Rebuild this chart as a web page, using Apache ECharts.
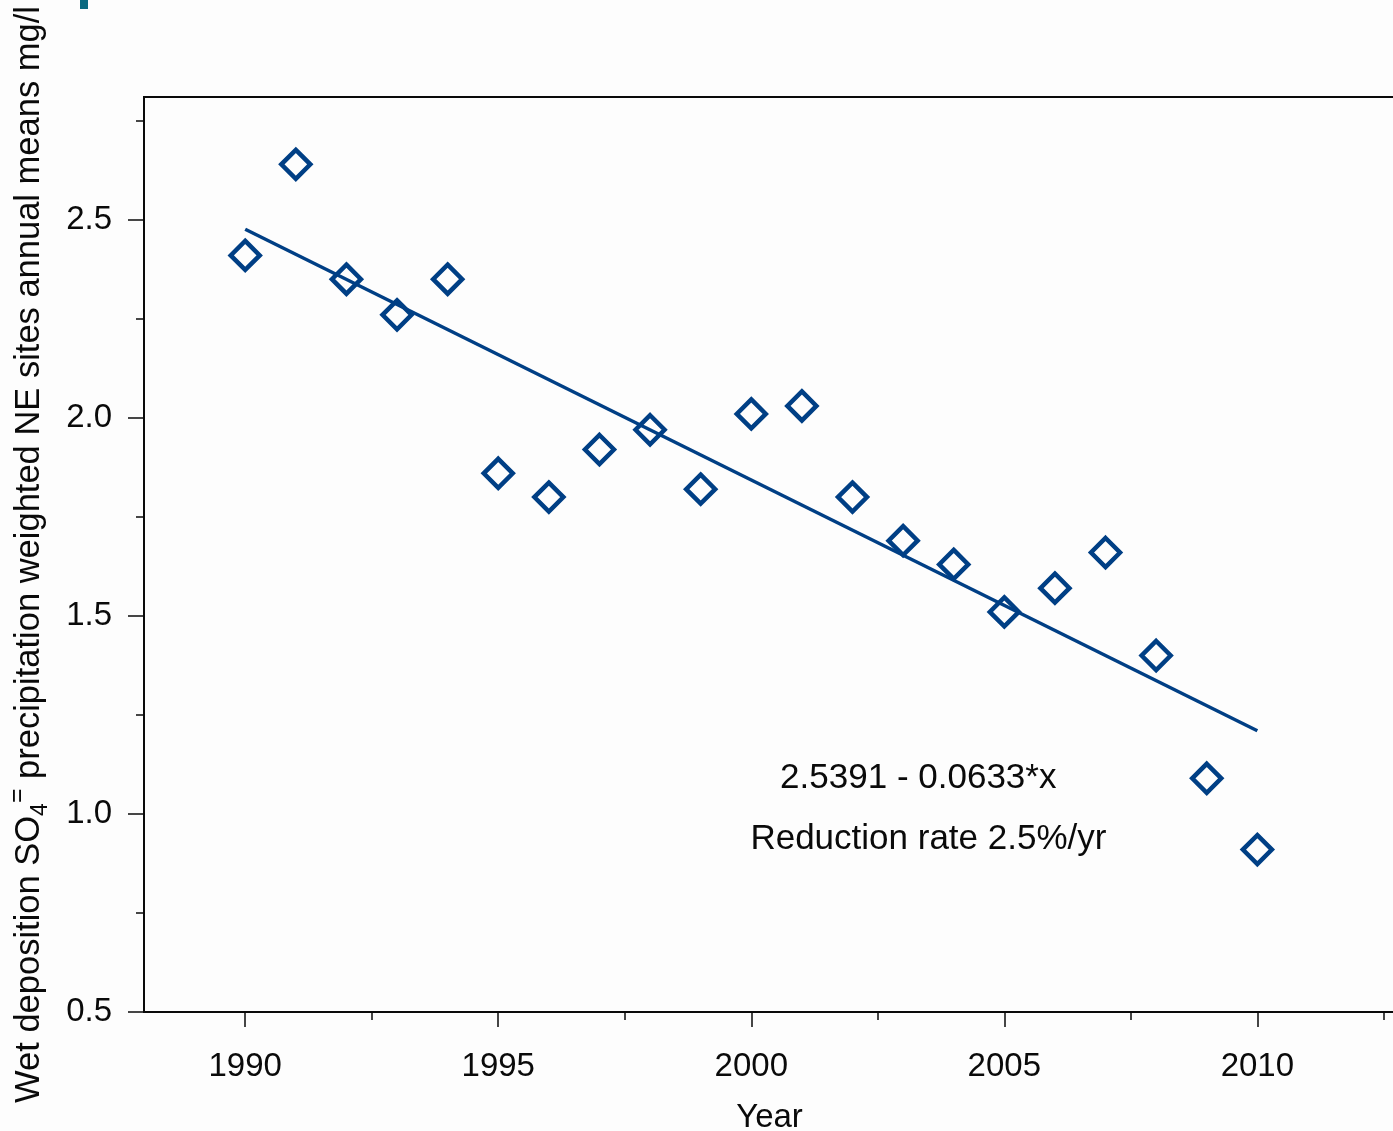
<!DOCTYPE html>
<html><head><meta charset="utf-8">
<script src="https://cdn.jsdelivr.net/npm/echarts@6/dist/echarts.min.js"></script>
<style>html,body{margin:0;padding:0;background:#fdfdfd}#c{width:1393px;height:1131px}</style>
</head><body><div id="c"></div>
<script>
const years = [1990,1991,1992,1993,1994,1995,1996,1997,1998,1999,2000,2001,2002,2003,2004,2005,2006,2007,2008,2009,2010];
const so4 = [2.41,2.64,2.35,2.26,2.35,1.86,1.80,1.92,1.97,1.82,2.01,2.03,1.80,1.69,1.63,1.51,1.57,1.66,1.40,1.09,0.91];
const trendYears = [1990, 2010];
const trendValues = [2.476, 1.210];
const xMajorTicks = [1990,1995,2000,2005,2010];
const xMinorTicks = [1992.5,1997.5,2002.5,2007.5,2012.5];
const yMajorTicks = [0.5,1.0,1.5,2.0,2.5];
const yMinorTicks = [0.75,1.25,1.75,2.25,2.75];
const annotationLines = ['2.5391 - 0.0633*x','Reduction rate 2.5%/yr'];

const blue = '#003f85';
const ink = '#0a0a0a';
const font = 'Liberation Sans, Arial, sans-serif';

const chart = echarts.init(document.getElementById('c'), null, {renderer:'canvas'});
const xBase = {type:'value', min:1988, max:2012.72, gridIndex:0, position:'bottom', splitLine:{show:false}};
const yBase = {type:'value', min:0.5, max:2.81, gridIndex:0, position:'left', splitLine:{show:false}};
chart.setOption({
  backgroundColor:'#fdfdfd',
  animation:false,
  grid:{left:144, top:97, right:-2, bottom:119, show:true, borderColor:ink, borderWidth:2, backgroundColor:'transparent', containLabel:false, outerBoundsMode:'none'},
  xAxis:[
    Object.assign({}, xBase, {
      name:'Year', nameLocation:'middle', nameGap:89,
      nameTextStyle:{fontSize:33, color:ink, fontFamily:font},
      axisLine:{show:true, lineStyle:{color:ink, width:2}},
      axisTick:{show:true, inside:false, length:15, customValues:xMajorTicks, lineStyle:{color:ink, width:1.5}},
      axisLabel:{show:true, margin:38, fontSize:33, color:ink, fontFamily:font, customValues:xMajorTicks, formatter:v=>String(v)}
    }),
    Object.assign({}, xBase, {
      axisLine:{show:false},
      axisTick:{show:true, inside:false, length:8, customValues:xMinorTicks, lineStyle:{color:ink, width:1.5}},
      axisLabel:{show:false}
    })
  ],
  yAxis:[
    Object.assign({}, yBase, {
      name:'{b|Wet deposition SO}{sub|4}{sup|=}{b| precipitation weighted NE sites annual means mg/l}',
      nameLocation:'middle', nameGap:92, nameRotate:90,
      nameTextStyle:{fontSize:34.5, color:ink, fontFamily:font,
        rich:{
          b:{fontSize:34.5, color:ink, fontFamily:font, lineHeight:46, verticalAlign:'middle'},
          sub:{fontSize:23, color:ink, fontFamily:font, lineHeight:46, verticalAlign:'bottom'},
          sup:{fontSize:25, color:ink, fontFamily:font, lineHeight:46, verticalAlign:'top'}
        }},
      axisLine:{show:true, lineStyle:{color:ink, width:2}},
      axisTick:{show:true, inside:false, length:16, customValues:yMajorTicks, lineStyle:{color:ink, width:1.5}},
      axisLabel:{show:true, margin:32, fontSize:33, color:ink, fontFamily:font, customValues:yMajorTicks, formatter:v=>v.toFixed(1)}
    }),
    Object.assign({}, yBase, {
      axisLine:{show:false},
      axisTick:{show:true, inside:false, length:8, customValues:yMinorTicks, lineStyle:{color:ink, width:1.5}},
      axisLabel:{show:false}
    })
  ],
  series:[
    {type:'line', xAxisIndex:0, yAxisIndex:0, data:trendYears.map((y,i)=>[y,trendValues[i]]),
     showSymbol:false, symbol:'none', lineStyle:{color:blue, width:3.5, opacity:1}, z:2},
    {type:'scatter', xAxisIndex:0, yAxisIndex:0, data:years.map((y,i)=>[y,so4[i]]),
     symbol:'diamond', symbolSize:29,
     itemStyle:{color:'rgba(0,0,0,0)', borderColor:blue, borderWidth:4.5, opacity:1}, z:3}
  ]
});
// annotation text placed relative to data coordinates
const p1 = chart.convertToPixel({xAxisIndex:0, yAxisIndex:0}, [2003.3, 1.09]);
const p2 = chart.convertToPixel({xAxisIndex:0, yAxisIndex:0}, [2003.5, 0.935]);
chart.setOption({graphic:[
  {type:'rect', left:80, top:0, shape:{width:8, height:9}, style:{fill:'#0b6a80'}},
  {type:'text', x:p1[0], y:p1[1], style:{text:annotationLines[0], font:'35px '+font, fill:ink, textAlign:'center', textVerticalAlign:'middle'}},
  {type:'text', x:p2[0], y:p2[1], style:{text:annotationLines[1], font:'35px '+font, fill:ink, textAlign:'center', textVerticalAlign:'middle'}}
]});
</script></body></html>
